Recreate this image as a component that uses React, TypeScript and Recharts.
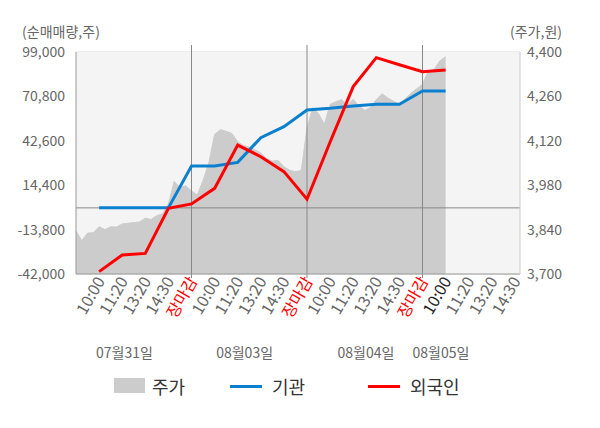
import { ComposedChart, Area, Line, XAxis, YAxis, CartesianGrid, ReferenceLine, ReferenceArea, Legend, Label } from 'recharts';

const FONT = '"Noto Sans CJK KR", "Noto Sans", sans-serif';

// x축: 1칸 = 시간 구간 하나, 장마감마다 하루가 바뀜
const timeLabels = [
  '10:00', '11:20', '13:20', '14:30', '장마감',
  '10:00', '11:20', '13:20', '14:30', '장마감',
  '10:00', '11:20', '13:20', '14:30', '장마감',
  '10:00', '11:20', '13:20', '14:30',
];
const dateLabels = ['07월31일', '08월03일', '08월04일', '08월05일'];
const datePositions = [2.1, 7.3, 12.55, 15.8];
const closeMarks = [5, 10, 15];
const todayTick = 16;

const leftTicks = [-42000, -13800, 14400, 42600, 70800, 99000];
const rightTicks = [3700, 3840, 3980, 4120, 4260, 4400];

// 누적 순매매량 (1 ~ 16 구간)
const institution = [0, 0, 0, 0, 26600, 26600, 28900, 44600, 51600, 62200, 63200, 64700, 65800, 65800, 74200, 74200];
const foreign = [-40500, -29900, -28900, -300, 2500, 12400, 39900, 32500, 23000, 5500, 41800, 77000, 95400, 90900, 86500, 87600];

// 주가 (구간당 4개씩)
const PRICE_STEP = 0.25;
const price = [
  3836, 3805, 3829, 3830, 3849, 3840, 3849, 3848, 3858, 3860, 3862, 3864, 3876, 3872, 3884, 3890,
  3920, 3992, 3972, 3978, 3962, 3949, 3995, 4050, 4140, 4155, 4150, 4143, 4117, 4105, 4100, 4091,
  4082, 4064, 4056, 4058, 4038, 4027, 4023, 4026, 4160, 4225, 4205, 4172, 4235, 4243, 4250, 4232,
  4251, 4230, 4216, 4225, 4250, 4268, 4255, 4245, 4235, 4252, 4270, 4284, 4298, 4340, 4345, 4372,
  4385,
];

const X_MAX = 19.22;

const lineData = institution.map((v, i) => ({ x: i + 1, inst: v, foreign: foreign[i] }));
const priceData = price.map((p, i) => ({ x: i * PRICE_STEP, price: p }));

const TimeTick = (props: any) => {
  const { x, y, payload } = props;
  const label = timeLabels[payload.value - 1];
  const color = label === '장마감' ? '#ff0000' : payload.value === todayTick ? '#222' : '#666';
  return (
    <text x={x} y={y} dx={4} dy={5} transform={`rotate(-60, ${x}, ${y})`} textAnchor="end"
      fill={color} fontSize={16} fontFamily={FONT}>
      {label}
    </text>
  );
};

const LegendBox = () => (
  <div style={{ position: 'relative', width: 600, height: 34, fontFamily: FONT, fontSize: 18, color: '#333' }}>
    <span style={{ position: 'absolute', left: 114, top: 9, width: 31, height: 15, background: '#cccccc' }} />
    <span style={{ position: 'absolute', left: 152, top: 0, lineHeight: '34px' }}>주가</span>
    <span style={{ position: 'absolute', left: 230, top: 16, width: 32, height: 3, background: '#0b80cf' }} />
    <span style={{ position: 'absolute', left: 272, top: 0, lineHeight: '34px' }}>기관</span>
    <span style={{ position: 'absolute', left: 368, top: 16, width: 32, height: 3, background: '#ff0000' }} />
    <span style={{ position: 'absolute', left: 410, top: 0, lineHeight: '34px' }}>외국인</span>
  </div>
);

export default function App() {
  return (
    <div style={{ position: 'absolute', left: 0, top: 0, width: 600, height: 428, background: '#fff' }}>
      <ComposedChart width={600} height={428} margin={{ top: 52, right: 0, bottom: 25, left: 0 }}
        style={{ fontFamily: FONT }}>
        <XAxis xAxisId={0} type="number" dataKey="x" domain={[0, X_MAX]} allowDataOverflow
          ticks={timeLabels.map((_, i) => i + 1)} interval={0} height={66}
          tick={<TimeTick />} tickLine={false} axisLine={{ stroke: '#999' }} />
        <XAxis xAxisId="date" type="number" dataKey="x" domain={[0, X_MAX]} allowDataOverflow
          ticks={datePositions} interval={0} height={29} axisLine={false} tickLine={false}
          tickFormatter={(v: number) => dateLabels[datePositions.indexOf(v)]}
          tick={{ fill: '#666', fontSize: 14, fontFamily: FONT }} />
        <YAxis yAxisId="left" domain={[-42000, 99000]} ticks={leftTicks} interval={0} width={76}
          tickFormatter={(v: number) => v.toLocaleString('en-US')} tickLine={false} tickMargin={5}
          axisLine={{ stroke: '#999' }} tick={{ fill: '#666', fontSize: 14, fontFamily: FONT }}>
          <Label value="(순매매량,주)" position="top" offset={15} dx={23} fill="#666" fontSize={14} fontFamily={FONT} />
        </YAxis>
        <YAxis yAxisId="right" orientation="right" domain={[3700, 4400]} ticks={rightTicks} interval={0} width={80}
          tickFormatter={(v: number) => v.toLocaleString('en-US')} tickLine={false} tickMargin={1}
          axisLine={{ stroke: '#ccc' }} tick={{ fill: '#666', fontSize: 14, fontFamily: FONT, textAnchor: 'start' }}>
          <Label value="(주가,원)" position="top" offset={15} dx={-24} fill="#666" fontSize={14} fontFamily={FONT} />
        </YAxis>

        <ReferenceArea xAxisId={0} yAxisId="right" x1={0} x2={X_MAX} y1={3700} y2={4400}
          fill="#f4f4f4" fillOpacity={1} stroke="none" />
        <CartesianGrid xAxisId={0} yAxisId="left" vertical={false} stroke="#dddddd" />

        <Area xAxisId={0} yAxisId="right" data={priceData} dataKey="price" type="linear"
          fill="#cccccc" fillOpacity={1} stroke="#cccccc" strokeWidth={1} isAnimationActive={false} />

        <ReferenceLine xAxisId={0} yAxisId="left" y={0} stroke="#888" />
        {closeMarks.map((m) => (
          <ReferenceLine key={m} xAxisId={0} yAxisId="right" ifOverflow="visible" stroke="#888"
            segment={[{ x: m, y: 4422 }, { x: m, y: 3687 }]} />
        ))}

        <Line xAxisId={0} yAxisId="left" data={lineData} dataKey="inst" type="linear"
          stroke="#0b80cf" strokeWidth={3} dot={false} isAnimationActive={false} />
        <Line xAxisId={0} yAxisId="left" data={lineData} dataKey="foreign" type="linear"
          stroke="#ff0000" strokeWidth={3} dot={false} isAnimationActive={false} />

        <Legend verticalAlign="bottom" content={<LegendBox />} wrapperStyle={{ left: 0, width: 600 }} />
      </ComposedChart>
    </div>
  );
}
